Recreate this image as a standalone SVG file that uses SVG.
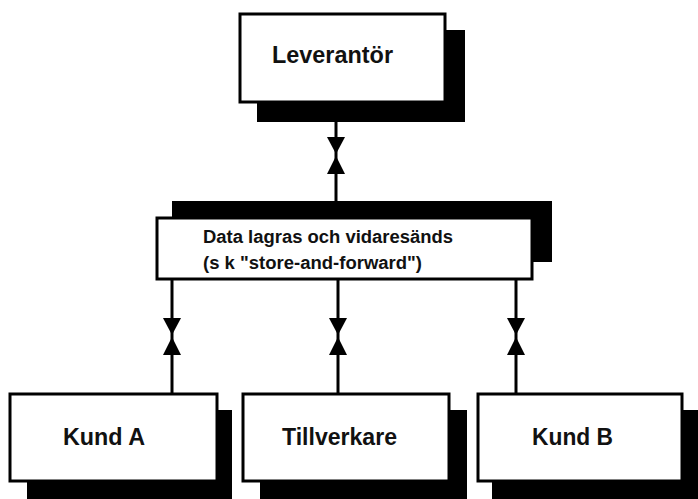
<svg xmlns="http://www.w3.org/2000/svg" width="698" height="499" viewBox="0 0 698 499">
<style>
.shadow{fill:#000}
.box{fill:#fff;stroke:#000;stroke-width:3}
.lbl{font-family:"Liberation Sans",Arial,sans-serif;font-weight:bold;fill:#111}
.conn{stroke:#000;stroke-width:3;fill:none}
</style>
<defs>
<g id="bowtie">
<polygon points="-9,-18 9,-18 0,-1" fill="#000"/>
<polygon points="0,1 -9,19 9,19" fill="#000"/>
</g>
</defs>
<rect width="698" height="499" fill="#fff"/>
<g id="connectors">
<line class="conn" x1="336" y1="120" x2="336" y2="203"/>
<use href="#bowtie" x="336" y="155"/>
<line class="conn" x1="172" y1="277" x2="172" y2="396"/>
<use href="#bowtie" x="172" y="336"/>
<line class="conn" x1="338" y1="277" x2="338" y2="396"/>
<use href="#bowtie" x="338" y="336"/>
<line class="conn" x1="516" y1="277" x2="516" y2="396"/>
<use href="#bowtie" x="516" y="336"/>
</g>
<g id="leverantor">
<rect class="shadow" x="257" y="30" width="208" height="92"/>
<rect class="box" x="240" y="14" width="205" height="88"/>
<text class="lbl" x="272" y="63" font-size="23" textLength="121" lengthAdjust="spacingAndGlyphs">Leverantör</text>
</g>
<g id="store-forward">
<rect class="shadow" x="172" y="201" width="380" height="61"/>
<rect class="box" x="157" y="218" width="375" height="61"/>
<text class="lbl" x="203" y="243" font-size="18" textLength="250" lengthAdjust="spacingAndGlyphs">Data lagras och vidaresänds</text>
<text class="lbl" x="203" y="269" font-size="18" textLength="219" lengthAdjust="spacingAndGlyphs">(s k "store-and-forward")</text>
</g>
<g id="kund-a">
<rect class="shadow" x="27" y="410" width="205" height="89"/>
<rect class="box" x="10" y="394" width="207" height="87"/>
<text class="lbl" x="63" y="445" font-size="24" textLength="82" lengthAdjust="spacingAndGlyphs">Kund A</text>
</g>
<g id="tillverkare">
<rect class="shadow" x="260" y="410" width="207" height="89"/>
<rect class="box" x="243" y="394" width="206" height="87"/>
<text class="lbl" x="282" y="445" font-size="24" textLength="115" lengthAdjust="spacingAndGlyphs">Tillverkare</text>
</g>
<g id="kund-b">
<rect class="shadow" x="492" y="410" width="206" height="89"/>
<rect class="box" x="478" y="394" width="204" height="87"/>
<text class="lbl" x="532" y="445" font-size="24" textLength="81" lengthAdjust="spacingAndGlyphs">Kund B</text>
</g>
</svg>
